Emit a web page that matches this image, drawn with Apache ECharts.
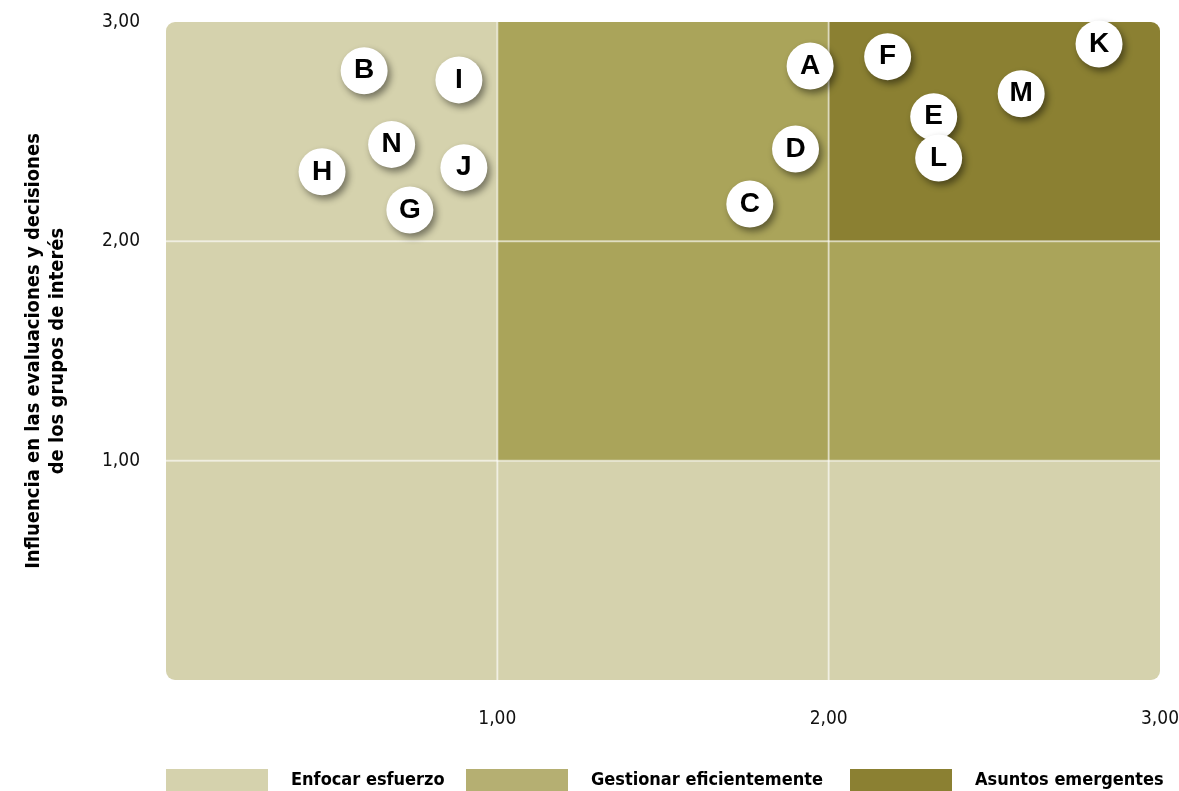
<!DOCTYPE html>
<html>
<head>
<meta charset="utf-8">
<script src="https://cdn.jsdelivr.net/npm/echarts@6/dist/echarts.min.js"></script>
<style>
html,body{margin:0;padding:0;background:#fff;}
#chart{width:1179px;height:791px;}
</style>
</head>
<body>
<div id="chart"></div>
<script>
// ---- data ----
var pointNames = ['A','B','C','D','E','F','G','H','I','J','K','L','M','N'];
var pointX = [1.944,0.598,1.762,1.900,2.317,2.178,0.736,0.471,0.884,0.899,2.816,2.332,2.581,0.681];
var pointY = [2.799,2.778,2.170,2.421,2.568,2.842,2.143,2.317,2.736,2.336,2.900,2.380,2.673,2.442];
var zoneNames = ['Enfocar esfuerzo','Gestionar eficientemente','Asuntos emergentes'];
// cells: [x0, x1, y0, y1, zoneIndex]
var cells = [
  [0,1,2,3,0],[1,2,2,3,1],[2,3,2,3,2],
  [0,1,1,2,0],[1,2,1,2,1],[2,3,1,2,1],
  [0,1,0,1,0],[1,2,0,1,0],[2,3,0,1,0]
];
var tickValues = [1,2,3];
var yAxisTitle = 'Influencia en las evaluaciones y decisiones\nde los grupos de interés';

// ---- styles ----
var cellColors = ['#d5d2ad','#aaa45a','#8b8032'];
var legendColors = ['#d5d2ad','#b5af72','#8b8032'];
var FONT = '"DejaVu Sans Condensed","Liberation Sans",sans-serif';
var R = 9;

function fmt(v){ return v === 0 ? '' : v.toFixed(2).replace('.', ','); }

var chart = echarts.init(document.getElementById('chart'), null, {renderer:'canvas'});

var series = [];
zoneNames.forEach(function(zn, zi){
  var d = cells.filter(function(c){ return c[4] === zi; });
  series.push({
    name: zn,
    type: 'custom',
    z: 1,
    silent: true,
    itemStyle: {color: legendColors[zi]},
    data: d,
    encode: {x:[0,1], y:[2,3]},
    renderItem: function(params, api){
      var x0 = api.value(0), x1 = api.value(1), y0 = api.value(2), y1 = api.value(3);
      var p0 = api.coord([x0, y1]);
      var p1 = api.coord([x1, y0]);
      var r = [0,0,0,0];
      if (x0 === 0 && y1 === 3) r[0] = R;
      if (x1 === 3 && y1 === 3) r[1] = R;
      if (x1 === 3 && y0 === 0) r[2] = R;
      if (x0 === 0 && y0 === 0) r[3] = R;
      return {
        type: 'rect',
        shape: {x: p0[0], y: p0[1], width: p1[0]-p0[0], height: p1[1]-p0[1], r: r},
        style: {fill: cellColors[zi]}
      };
    }
  });
});
series.push({
  type: 'custom',
  z: 2,
  silent: true,
  data: [[1,'v'],[2,'v'],[1,'h'],[2,'h']],
  renderItem: function(params, api){
    var v = api.value(0);
    var isV = params.dataIndex < 2;
    var a, b;
    if (isV){ a = api.coord([v,0]); b = api.coord([v,3]); }
    else { a = api.coord([0,v]); b = api.coord([3,v]); }
    return {
      type: 'line',
      shape: {x1:a[0], y1:a[1], x2:b[0], y2:b[1]},
      style: {stroke: 'rgba(255,255,255,0.55)', lineWidth: 2}
    };
  }
});
series.push({
  type: 'scatter',
  z: 5,
  symbol: 'circle',
  symbolSize: 47,
  itemStyle: {
    color: '#ffffff',
    shadowColor: 'rgba(0,0,0,0.45)',
    shadowBlur: 7,
    shadowOffsetX: 3,
    shadowOffsetY: 4,
    opacity: 1
  },
  label: {
    show: true,
    position: 'inside',
    formatter: function(p){ return p.name; },
    color: '#000',
    fontFamily: '"Liberation Sans","DejaVu Sans",sans-serif',
    fontWeight: 'bold',
    fontSize: 28
  },
  emphasis: {disabled: true},
  data: pointNames.map(function(n, i){ return {name: n, value: [pointX[i], pointY[i]]}; })
});

var legendLefts = [166, 466, 850];
var legends = zoneNames.map(function(zn, i){
  return {
    data: [zn],
    left: legendLefts[i],
    top: 769,
    itemWidth: 102,
    itemHeight: 22,
    icon: 'rect',
    selectedMode: false,
    padding: 0,
    textStyle: {
      fontFamily: FONT,
      fontWeight: 'bold',
      fontSize: 18,
      color: '#000',
      padding: [0,0,0,18]
    }
  };
});

chart.setOption({
  animation: false,
  backgroundColor: '#ffffff',
  grid: {left: 166, right: 19, top: 22, bottom: 111, containLabel: false, outerBoundsMode: 'none'},
  legend: legends,
  xAxis: {
    type: 'value', min: 0, max: 3, interval: 1,
    axisLine: {show: false}, axisTick: {show: false}, splitLine: {show: false},
    axisLabel: {
      formatter: fmt, margin: 30, color: '#111',
      fontFamily: FONT, fontSize: 19
    }
  },
  yAxis: {
    type: 'value', min: 0, max: 3, interval: 1,
    axisLine: {show: false}, axisTick: {show: false}, splitLine: {show: false},
    name: yAxisTitle,
    nameLocation: 'middle',
    nameGap: 96,
    nameRotate: 90,
    nameTextStyle: {
      fontFamily: FONT, fontWeight: 'bold', fontSize: 20, color: '#000',
      lineHeight: 24, align: 'center'
    },
    axisLabel: {
      formatter: fmt, margin: 26, color: '#111',
      fontFamily: FONT, fontSize: 19
    }
  },
  series: series
});
</script>
</body>
</html>
